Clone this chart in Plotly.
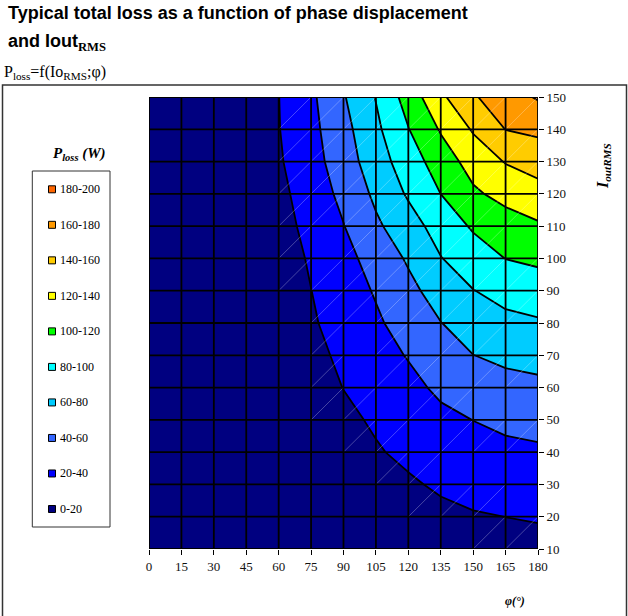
import plotly.graph_objects as go

# Phase displacement (degrees) and output RMS current (A)
phi = [0, 15, 30, 45, 60, 75, 90, 105, 120, 135, 150, 165, 180]
iout = [10, 20, 30, 40, 50, 60, 70, 80, 90, 100, 110, 120, 130, 140, 150]

# Total loss (W) per current row, one value per phase column
loss_i10 = [0.5, 0.5, 0.5, 1, 1.6, 3.5, 5, 6.5, 8, 10, 12, 13, 14]
loss_i20 = [0.5, 0.5, 1, 1.5, 2.2, 5, 8, 10.5, 13, 16, 18.6, 20.1, 21.5]
loss_i30 = [0.5, 1, 1.5, 2, 2.7, 6.5, 10, 14.5, 17.8, 22.4, 25.8, 27.9, 29.4]
loss_i40 = [1, 1, 2, 2.5, 3.2, 8, 13, 18.5, 23.6, 29.3, 33, 35.6, 37.2]
loss_i50 = [1, 1.5, 2, 3, 3.8, 10.4, 16.3, 22.2, 28.5, 35.6, 40.2, 44.2, 46.2]
loss_i60 = [1, 1.5, 2.5, 3.5, 4.5, 12.6, 20.3, 27.4, 34.8, 43.6, 49.6, 53.8, 55.8]
loss_i70 = [1.5, 2, 3, 4.5, 6, 14.8, 23.6, 32.5, 41.2, 51.6, 59.8, 64.1, 66.4]
loss_i80 = [1.5, 2, 3.5, 5, 8.1, 17.8, 27.5, 37.2, 48, 59.6, 68.4, 75.5, 77.8]
loss_i90 = [1.5, 2.5, 4, 6, 9, 19.8, 30.6, 41.7, 54.8, 68.5, 79.5, 86, 90.5]
loss_i100 = [2, 3, 4.5, 6.5, 10.4, 22.2, 34, 47.5, 62.4, 79.3, 90.5, 100.3, 103.6]
loss_i110 = [2, 3, 5, 7.5, 12.5, 25.9, 39.4, 56.7, 71.6, 88.3, 102.4, 111, 117.5]
loss_i120 = [2, 3.5, 5.5, 8.5, 14.9, 29.3, 44.8, 63.9, 82.4, 100.1, 116.8, 126.2, 132.7]
loss_i130 = [2.5, 4, 6, 9.5, 17.8, 32.7, 50, 71.1, 90, 109.8, 127.8, 141.1, 148.2]
loss_i140 = [2.5, 4, 6.5, 10.5, 19.3, 34.6, 53.6, 75.9, 99.3, 121.8, 142, 160.4, 164]
loss_i150 = [3, 4.5, 7, 11.5, 19.7, 36.2, 58.4, 80.9, 108.3, 136.2, 157.9, 171.3, 182]

# Loss bands (W) and their fill colours, lowest band first
band_labels = ["0-20", "20-40", "40-60", "60-80", "80-100",
               "100-120", "120-140", "140-160", "160-180", "180-200"]
band_colors = ["#000080", "#0000FF", "#3366FF", "#00CCFF", "#00FFFF",
               "#00FF00", "#FFFF00", "#FFCC00", "#FF9900", "#FF6600"]
band_step = 20

z = [loss_i10, loss_i20, loss_i30, loss_i40, loss_i50, loss_i60, loss_i70,
     loss_i80, loss_i90, loss_i100, loss_i110, loss_i120, loss_i130,
     loss_i140, loss_i150]

# Page geometry (pixels)
W, H = 628, 616
ML, MR, MT, MB = 149, 90, 97, 67
PW, PH = W - ML - MR, H - MT - MB


def fx(px):
    return (px - ML) / PW


def fy(py):
    return (H - MB - py) / PH


SERIF = "Liberation Serif"
SANS = "Liberation Sans"

fig = go.Figure()

n_levels = len(band_colors) - 1
fig.add_trace(go.Contour(
    x=phi, y=iout, z=z,
    autocontour=False,
    contours=dict(start=band_step, end=band_step * n_levels, size=band_step,
                  coloring="fill", showlines=True),
    line=dict(color="black", width=1.8, smoothing=0),
    colorscale=[[k / (len(band_colors) - 1), c] for k, c in enumerate(band_colors)],
    showscale=False, hoverinfo="skip",
))

# faint seams across cells that a contour passes through
dx, dy = [], []
for i in range(len(iout) - 1):
    for j in range(len(phi) - 1):
        corners = [z[i][j], z[i][j + 1], z[i + 1][j], z[i + 1][j + 1]]
        if int(min(corners) // band_step) != int(max(corners) // band_step):
            dx += [phi[j], phi[j + 1], None]
            dy += [iout[i], iout[i + 1], None]
fig.add_trace(go.Scatter(x=dx, y=dy, mode="lines",
                         line=dict(color="rgba(255,255,255,0.35)", width=0.8),
                         hoverinfo="skip", showlegend=False))

shapes = []
# black grid drawn over the filled contours
for p in phi:
    shapes.append(dict(type="line", xref="x", yref="y", x0=p, x1=p,
                       y0=iout[0], y1=iout[-1], layer="above",
                       line=dict(color="black", width=1.8)))
for c in iout:
    shapes.append(dict(type="line", xref="x", yref="y", x0=phi[0], x1=phi[-1],
                       y0=c, y1=c, layer="above",
                       line=dict(color="black", width=1.8)))

# outer frame and legend frame
shapes.append(dict(type="rect", xref="paper", yref="paper",
                   x0=fx(2.5), x1=fx(626.5), y0=fy(85), y1=fy(640),
                   line=dict(color="#333", width=1.5), fillcolor="rgba(0,0,0,0)"))
shapes.append(dict(type="rect", xref="paper", yref="paper",
                   x0=fx(32.3), x1=fx(110), y0=fy(171), y1=fy(527),
                   line=dict(color="#333", width=1), fillcolor="rgba(0,0,0,0)"))


def note(text, px, py, size, family, xanchor="left", angle=0):
    return dict(text=text, xref="paper", yref="paper", x=fx(px), y=fy(py),
                xanchor=xanchor, yanchor="middle", showarrow=False,
                textangle=angle, font=dict(family=family, size=size, color="black"))


annotations = [
    note("<b>Typical total loss as a function of phase displacement</b>", 6, 13.5, 18, SANS),
    note('<b>and Iout<sub><span style="font-family:Liberation Serif">RMS</span></sub></b>',
         6, 42, 18, SANS),
    note("P<sub>loss</sub>=f(Io<sub>RMS</sub>;φ)", 2, 73, 16, SERIF),
    note("<b><i>P<sub>loss</sub> (W)</i></b>", 79, 154, 15, SERIF, "center"),
    note("<b><i>I<sub>outRMS</sub></i></b>", 603, 166, 16, SERIF, "center", -90),
    note("<b><i>φ(°)</i></b>", 515, 601, 12, SERIF, "center"),
]

# legend entries, highest band at the top
n_bands = len(band_labels)
top_c, bot_c = 189.3, 509.0
for k in range(n_bands):
    idx = n_bands - 1 - k
    cy = top_c + k * (bot_c - top_c) / (n_bands - 1)
    shapes.append(dict(type="rect", xref="paper", yref="paper",
                       x0=fx(48.5), x1=fx(55.5), y0=fy(cy + 3.5), y1=fy(cy - 3.5),
                       line=dict(color="black", width=1),
                       fillcolor=band_colors[idx]))
    annotations.append(note(band_labels[idx], 57.5, cy, 12, SERIF))

fig.update_layout(
    width=W, height=H,
    margin=dict(l=ML, r=MR, t=MT, b=MB, pad=0),
    paper_bgcolor="white", plot_bgcolor="white",
    showlegend=False,
    shapes=shapes, annotations=annotations,
    xaxis=dict(range=[phi[0], phi[-1]], tickmode="array", tickvals=phi,
               ticktext=[str(p) for p in phi], showgrid=False, zeroline=False,
               showline=False, ticks="outside", ticklen=5, tickwidth=1,
               tickcolor="black",
               tickfont=dict(family=SERIF, size=13, color="#111")),
    yaxis=dict(range=[iout[0], iout[-1]], side="right", tickmode="array",
               tickvals=iout, ticktext=[str(c) for c in iout],
               showgrid=False, zeroline=False, showline=False,
               ticks="outside", ticklen=5, tickwidth=1, tickcolor="black",
               tickfont=dict(family=SERIF, size=13, color="#111")),
)

fig.write_html("out.html")
